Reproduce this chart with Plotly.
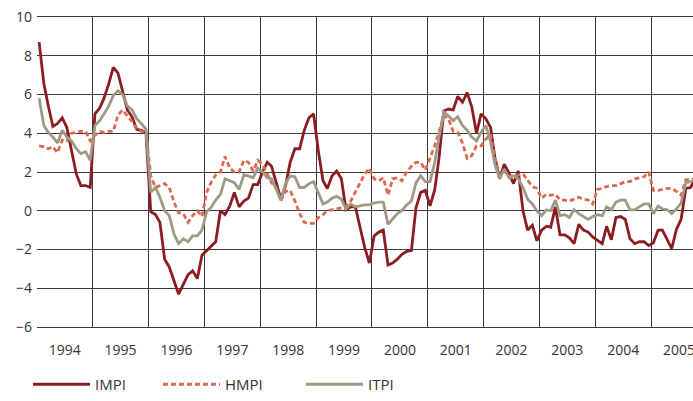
import pandas as pd
import plotly.graph_objects as go

# monthly observations, Jan 1994 .. Oct 2005 (plotted mid-month)
months = pd.date_range("1994-01-01", periods=142, freq="MS") + pd.Timedelta(days=14)
years = list(range(1994, 2006))

impi = [
    8.7, 6.55, 5.45, 4.35, 4.5, 4.8, 4.3, 3.1, 1.9, 1.3, 1.3, 1.2,
    5.0, 5.3, 5.8, 6.55, 7.4, 7.1, 6.1, 5.2, 4.85, 4.2, 4.15, 4.0,
    -0.05, -0.2, -0.6, -2.5, -2.9, -3.65, -4.3, -3.8, -3.3, -3.1, -3.5, -2.3,
    -2.05, -1.85, -1.6, 0.0, -0.2, 0.25, 0.95, 0.2, 0.5, 0.65, 1.35, 1.35,
    2.0, 2.5, 2.3, 1.45, 0.6, 1.3, 2.5, 3.2, 3.2, 4.15, 4.8, 5.0,
    3.1, 1.55, 1.15, 1.8, 2.05, 1.65, 0.05, 0.2, 0.2, -0.85, -1.9, -2.7,
    -1.3, -1.1, -1.0, -2.8, -2.7, -2.5, -2.25, -2.1, -2.05, 0.15, 0.95, 1.05,
    0.25, 1.1, 2.75, 5.15, 5.25, 5.2, 5.9, 5.6, 6.1, 5.35, 4.0, 5.0,
    4.75, 4.3, 2.75, 1.65, 2.4, 1.95, 1.4, 2.05, 0.0, -1.0, -0.75, -1.55,
    -1.0, -0.8, -0.85, 0.2, -1.25, -1.25, -1.4, -1.7, -0.7, -1.0, -1.1, -1.35,
    -1.55, -1.7, -0.8, -1.5, -0.35, -0.3, -0.45, -1.45, -1.7, -1.6, -1.6, -1.8,
    -1.65, -1.0, -1.0, -1.45, -1.95, -0.95, -0.45, 1.15, 1.2, 1.65,
]

hmpi = [
    3.35, 3.3, 3.2, 3.3, 3.0, 3.65, 3.6, 4.0, 4.05, 4.1, 4.1, 3.6,
    3.9, 4.1, 4.05, 4.1, 4.1, 4.95, 5.2, 4.9, 4.6, 4.2, 4.1, 4.05,
    1.8, 1.2, 1.3, 1.4, 1.2, 0.45, -0.1, -0.15, -0.6, -0.25, 0.0, -0.3,
    0.95, 1.5, 1.85, 2.0, 2.8, 2.2, 2.0, 2.0, 2.6, 2.5, 2.05, 2.6,
    2.4, 1.9, 1.45, 1.2, 0.5, 1.0, 1.05, 0.5, -0.15, -0.6, -0.65, -0.65,
    -0.35, -0.2, 0.0, 0.05, 0.1, 0.15, 0.2, 0.5, 0.95, 1.4, 1.9, 2.2,
    1.65, 1.55, 1.7, 0.8, 1.65, 1.7, 1.55, 2.0, 2.3, 2.5, 2.5, 2.1,
    2.75, 3.35, 4.1, 4.9, 4.75, 4.1, 4.05, 3.5, 2.7, 2.85, 3.35, 3.35,
    3.7, 3.95, 2.75, 1.8, 2.05, 1.8, 1.7, 1.85, 1.9, 1.55, 1.25, 1.15,
    0.65, 0.85, 0.8, 0.85, 0.55, 0.55, 0.5, 0.6, 0.7, 0.6, 0.55, 0.35,
    1.1, 1.15, 1.25, 1.3, 1.3, 1.4, 1.5, 1.5, 1.65, 1.7, 1.75, 2.0,
    1.05, 1.05, 1.1, 1.15, 1.15, 1.0, 0.8, 1.6, 1.6, 1.65,
]

itpi = [
    5.8, 4.4, 4.05, 3.8, 3.5, 4.15, 3.8, 3.6, 3.2, 2.95, 3.05, 2.6,
    4.4, 4.65, 5.0, 5.4, 5.95, 6.2, 6.0, 5.4, 5.2, 4.75, 4.5, 4.2,
    0.95, 1.2, 0.7, 0.0, -0.25, -1.2, -1.7, -1.45, -1.6, -1.3, -1.3, -1.0,
    -0.05, 0.2, 0.55, 0.85, 1.65, 1.55, 1.45, 1.1, 1.85, 1.8, 1.7, 2.2,
    2.0, 1.7, 1.65, 1.1, 0.55, 1.4, 1.8, 1.75, 1.2, 1.2, 1.4, 1.5,
    0.95, 0.35, 0.45, 0.65, 0.75, 0.6, 0.1, 0.35, 0.2, 0.25, 0.3, 0.3,
    0.4, 0.45, 0.45, -0.7, -0.4, -0.15, 0.0, 0.3, 0.5, 1.45, 1.8, 1.5,
    1.5, 2.5, 3.8, 5.1, 4.9, 4.65, 4.85, 4.4, 4.15, 3.8, 3.6, 4.05,
    4.4, 3.55, 2.4, 1.65, 2.15, 1.7, 1.8, 1.65, 1.2, 0.6, 0.35, 0.0,
    -0.25, 0.05, 0.0, 0.55, -0.25, -0.2, -0.35, 0.05, -0.15, -0.3, -0.45, -0.3,
    -0.2, -0.25, 0.2, 0.05, 0.45, 0.55, 0.55, 0.05, 0.05, 0.2, 0.35, 0.35,
    -0.15, 0.25, 0.1, 0.05, -0.15, 0.1, 0.4, 1.45, 1.5, 1.6,
]

grid = "#3a3a3a"
font = dict(family="Open Sans, sans-serif", size=14, color="#333333")

fig = go.Figure()
fig.add_trace(go.Scatter(x=months, y=impi, name="IMPI", mode="lines", legend="legend",
                         line=dict(color="#8b1c22", width=2.8)))
fig.add_trace(go.Scatter(x=months, y=hmpi, name="HMPI", mode="lines", legend="legend2",
                         line=dict(color="#e0684f", width=2.8, dash="5px,3px")))
fig.add_trace(go.Scatter(x=months, y=itpi, name="ITPI", mode="lines", legend="legend3",
                         line=dict(color="#9e9a85", width=2.8)))

# year labels sit mid-year, grid lines on year boundaries
fig.update_xaxes(
    type="date", range=["1994-01-01", "2005-10-01"],
    tickvals=[f"{y}-07-02" for y in years], ticktext=[str(y) for y in years],
    showgrid=False, ticks="", ticklabelstandoff=10, ticklabeloverflow="allow",
    minor=dict(tick0="1994-01-01", dtick="M12", showgrid=True, gridcolor=grid, gridwidth=1),
    zeroline=False, showline=True, mirror=True, linecolor=grid, linewidth=1,
    automargin=False,
)
fig.update_yaxes(
    range=[-6, 10], dtick=2, tick0=0,
    showgrid=True, gridcolor=grid, gridwidth=1, ticklabeloverflow="allow",
    zeroline=False, showline=False, ticks="", ticklabelstandoff=4, automargin=False,
)

# legends are placed against the container so they don't push the margins
leg = dict(orientation="h", xref="container", yref="container", y=0.0, yanchor="bottom",
           xanchor="left", font=dict(size=15, color="#333333"), itemwidth=57,
           bgcolor="rgba(0,0,0,0)")
fig.update_layout(
    width=693, height=401,
    margin=dict(l=37, r=0, t=17, b=74),
    plot_bgcolor="white", paper_bgcolor="white",
    font=font,
    showlegend=True,
    legend=dict(leg, x=0.0404),
    legend2=dict(leg, x=0.228),
    legend3=dict(leg, x=0.4343),
)

# drop the default page margin so the figure fills the window exactly
fig.write_html("out.html", config={"displayModeBar": False}, post_script=(
    "document.body.style.margin='0';document.body.style.overflow='hidden';"
))
